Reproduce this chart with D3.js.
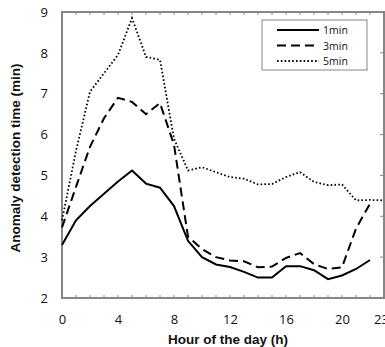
<!DOCTYPE html>
<html>
<head>
<meta charset="utf-8">
<script src="https://cdn.jsdelivr.net/npm/d3@7"></script>
<style>
  body { margin: 0; background: #fff; }
  svg text { fill: #111; }
</style>
</head>
<body>
<div id="chart"></div>
<script>
// hour of day
const hours = d3.range(0, 24);
const xTicks = [0, 4, 8, 12, 16, 20, 23];
const yTicks = [2, 3, 4, 5, 6, 7, 8, 9];

// anomaly detection time (min) per window size
const oneMin = [3.3, 3.9, 4.25, 4.55, 4.85, 5.12, 4.8, 4.7, 4.25, 3.4, 3.0, 2.82, 2.76, 2.64, 2.5, 2.5, 2.78, 2.78, 2.68, 2.46, 2.55, 2.71, 2.93];
const threeMin = [3.73, 4.72, 5.7, 6.4, 6.9, 6.8, 6.5, 6.77, 5.75, 3.5, 3.2, 3.0, 2.92, 2.9, 2.75, 2.77, 2.98, 3.1, 2.83, 2.71, 2.75, 3.7, 4.31];
const fiveMin = [3.9, 5.6, 7.05, 7.5, 7.95, 8.85, 7.9, 7.83, 5.9, 5.12, 5.2, 5.08, 4.96, 4.92, 4.78, 4.79, 4.96, 5.08, 4.84, 4.76, 4.78, 4.39, 4.4, 4.39];

const seriesNames = ["1min", "3min", "5min"];
const seriesValues = [oneMin, threeMin, fiveMin];
const dashes = [null, "9,5", "1.6,2.2"];
const widths = [2, 2, 1.8];

const W = 385, H = 347;
const MARGINS = { left: 62, right: 1, top: 12, bottom: 49 };
const chartWidth = W - MARGINS.left - MARGINS.right;
const chartHeight = H - MARGINS.top - MARGINS.bottom;

const svg = d3.select("#chart").append("svg")
    .attr("width", W)
    .attr("height", H);

const chartG = svg.append("g")
    .attr("transform", "translate(" + MARGINS.left + "," + MARGINS.top + ")");

const xScale = d3.scaleLinear().domain([0, 23]).range([0, chartWidth]);
const yScale = d3.scaleLinear().domain([2, 9]).range([chartHeight, 0]);

const frameColor = "#868686";
const tickFont = "'Open Sans', 'Liberation Sans', sans-serif";

// minor hour ticks, bottom (pointing up) and top (pointing down)
chartG.selectAll(".tickB").data(hours.slice(1, 23)).enter().append("line")
    .attr("x1", d => xScale(d)).attr("x2", d => xScale(d))
    .attr("y1", chartHeight).attr("y2", chartHeight - 3)
    .attr("stroke", frameColor).attr("stroke-width", 1);
chartG.selectAll(".tickT").data(hours.slice(1, 23)).enter().append("line")
    .attr("x1", d => xScale(d)).attr("x2", d => xScale(d))
    .attr("y1", 0).attr("y2", 3)
    .attr("stroke", frameColor).attr("stroke-width", 1);
// right side y ticks
chartG.selectAll(".tickR").data(yTicks.slice(1, 7)).enter().append("line")
    .attr("x1", chartWidth).attr("x2", chartWidth - 4)
    .attr("y1", d => yScale(d)).attr("y2", d => yScale(d))
    .attr("stroke", frameColor).attr("stroke-width", 1);

// frame
chartG.append("rect")
    .attr("x", 0).attr("y", 0)
    .attr("width", chartWidth).attr("height", chartHeight)
    .attr("fill", "none")
    .attr("stroke", frameColor)
    .attr("stroke-width", 2);

// tick labels
const xAxis = chartG.append("g")
    .attr("transform", "translate(0," + chartHeight + ")")
    .call(d3.axisBottom(xScale).tickValues(xTicks).tickFormat(d3.format("d")).tickSize(0).tickPadding(17));
xAxis.select(".domain").remove();
xAxis.selectAll("text")
    .style("font-family", tickFont)
    .style("font-size", "13px")
    .attr("dx", d => d === 23 ? -3 : 0);

const yAxis = chartG.append("g")
    .call(d3.axisLeft(yScale).tickValues(yTicks).tickFormat(d3.format("d")).tickSize(0).tickPadding(14));
yAxis.select(".domain").remove();
yAxis.selectAll("text")
    .style("font-family", tickFont)
    .style("font-size", "13px");

// series lines
const line = d3.line()
    .x((d, i) => xScale(hours[i]))
    .y(d => yScale(d));

seriesValues.forEach((vals, i) => {
    chartG.append("path")
        .datum(vals)
        .attr("d", line)
        .attr("fill", "none")
        .attr("stroke", "#000")
        .attr("stroke-width", widths[i])
        .attr("stroke-dasharray", dashes[i]);
});

// legend
const legend = svg.append("g").attr("transform", "translate(262,20)");
legend.append("rect")
    .attr("width", 105).attr("height", 50)
    .attr("fill", "#fff")
    .attr("stroke", frameColor).attr("stroke-width", 1);
seriesNames.forEach((name, i) => {
    const y = 10 + i * 15.5;
    legend.append("line")
        .attr("x1", 15).attr("x2", 57)
        .attr("y1", y).attr("y2", y)
        .attr("stroke", "#000")
        .attr("stroke-width", widths[i])
        .attr("stroke-dasharray", dashes[i]);
    legend.append("text")
        .attr("x", 61).attr("y", y + 4)
        .style("font-family", tickFont)
        .style("font-size", "10.5px")
        .text(name);
});

// axis titles
svg.append("text")
    .attr("x", 228).attr("y", 344)
    .attr("text-anchor", "middle")
    .style("font-family", "'Liberation Sans', Arial, sans-serif")
    .style("font-weight", "bold")
    .style("font-size", "13.5px")
    .text("Hour of the day (h)");

svg.append("text")
    .attr("transform", "translate(20,158) rotate(-90)")
    .attr("text-anchor", "middle")
    .style("font-family", "'Liberation Sans', Arial, sans-serif")
    .style("font-weight", "bold")
    .style("font-size", "13.5px")
    .text("Anomaly detection time (min)");
</script>
</body>
</html>
